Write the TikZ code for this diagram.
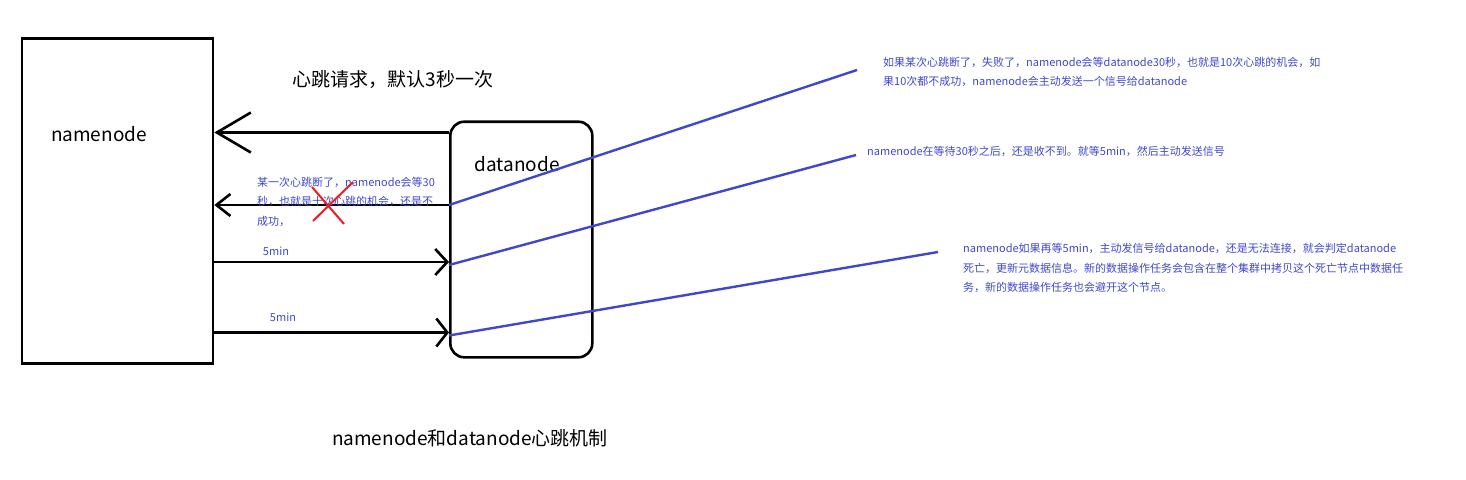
\documentclass[tikz,border=0pt]{standalone}
\usepackage{fontspec}
\usepackage{xcolor}
\usepackage{tikz}
\usetikzlibrary{arrows.meta,positioning}
\newfontfamily\cjk{Noto Sans CJK SC}
\definecolor{pen}{RGB}{63,72,204}
\definecolor{xred}{RGB}{237,28,36}

\begin{document}
\begin{tikzpicture}[x=1pt, y=-1pt,
  box/.style={draw, line width=2.6pt, inner sep=0pt},
  lab/.style={font=\cjk\fontsize{19}{23}\selectfont, inner sep=0pt},
  note/.style={font=\cjk\fontsize{11}{19.5}\selectfont, text=pen, align=left, inner sep=0pt, anchor=north west},
  arr/.style={line width=2.6pt},
  link/.style={draw=pen, line width=2.4pt},
]
\useasboundingbox (0,0) rectangle (1466,479);
\node[box, minimum width=191pt, minimum height=325pt] (nn) at (117.5,200.7) {};
\node[box, rounded corners=14pt, minimum width=142pt, minimum height=235.6pt] (dn) at (521.3,239.5) {};
\node[lab] (title) at (393,80) {心跳请求，默认3秒一次};
\node[lab] (nnlab) at (99,134) {namenode};
\node[lab] (dnlab) at (517,164) {datanode};
\node[lab] (caption) at (470,438) {namenode和datanode心跳机制};
% rows of the arrows
\coordinate (r1) at (0,132.5);
\coordinate (r2) at (0,205);
\coordinate (r3) at (0,262);
\coordinate (r4) at (0,332.5);
\draw[arr, -{Straight Barb[length=34pt, width=40pt]}] (dn.west |- r1) -- (nn.east |- r1);
\draw[arr, -{Straight Barb[length=14pt, width=22pt]}] (dn.west |- r2) -- (nn.east |- r2);
\draw[arr, -{Straight Barb[length=12pt, width=26pt]}] (nn.east |- r3) -- (dn.west |- r3);
\draw[arr, -{Straight Barb[length=11pt, width=28pt]}] (nn.east |- r4) -- (dn.west |- r4);
% blue leaders to the notes
\coordinate (e1) at (857,70);
\coordinate (e2) at (856,155);
\coordinate (e3) at (938,252);
\draw[link] (dn.west |- r2) -- (e1);
\draw[link] ([yshift=-3pt]dn.west |- r3) -- (e2);
\draw[link] ([yshift=-3pt]dn.west |- r4) -- (e3);
\node[note] (fail) at (257,177) {某一次心跳断了，namenode会等30\\秒，也就是十次心跳的机会，还是不\\成功，};
\node[note, anchor=center] (t1) at (276,251) {5min};
\node[note, anchor=center] (t2) at (283,317) {5min};
\node[note] (n1) at (883,57) {如果某次心跳断了，失败了，namenode会等datanode30秒，也就是10次心跳的机会，如\\果10次都不成功，namenode会主动发送一个信号给datanode};
\node[note] (n2) at (867,146) {namenode在等待30秒之后，还是收不到。就等5min，然后主动发送信号};
\node[note] (n3) at (963,243) {namenode如果再等5min，主动发信号给datanode，还是无法连接，就会判定datanode\\死亡，更新元数据信息。新的数据操作任务会包含在整个集群中拷贝这个死亡节点中数据任\\务，新的数据操作任务也会避开这个节点。};
\draw[xred, line width=2pt] (313,221) -- (353,182) (312,187) -- (344,224);
\end{tikzpicture}
\end{document}
